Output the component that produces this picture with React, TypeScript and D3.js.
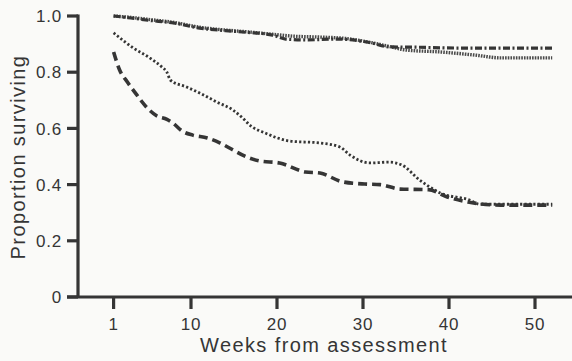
import React from "react";
import * as d3 from "d3";

const W = 572;
const H = 361;

// Weeks from assessment ticks and proportion ticks
const xTicks = [1, 10, 20, 30, 40, 50];
const yTicks = [0, 0.2, 0.4, 0.6, 0.8, 1.0];
const yTickLabels = ["0", "0.2", "0.4", "0.6", "0.8", "1.0"];

// Series A: dash-dot line (top)
const weeksA = [1, 3, 5, 8, 11, 14, 16, 19.5, 21, 23.5, 27, 31, 33, 36, 41, 52];
const survA = [1.0, 0.993, 0.985, 0.975, 0.957, 0.948, 0.943, 0.932, 0.918, 0.915, 0.918, 0.904, 0.89, 0.889, 0.886, 0.886];

// Series B: dense dotted line (top)
const weeksB = [1, 3, 5, 8, 11, 14, 16, 19.5, 22, 25, 28, 31, 33, 35, 39, 43, 46, 52];
const survB = [1.0, 0.995, 0.988, 0.977, 0.96, 0.95, 0.945, 0.935, 0.928, 0.925, 0.92, 0.905, 0.892, 0.879, 0.872, 0.861, 0.851, 0.851];

// Series C: dotted line
const weeksC = [1, 3.3, 5.2, 6.6, 7.2, 7.6, 9.5, 11, 13, 14.9, 16, 16.9, 18.6, 21.5, 25, 27.3, 28.5, 30.8, 33, 34.5, 36.6, 39, 42.4, 43.6, 52];
const survC = [0.94, 0.886, 0.851, 0.819, 0.8, 0.772, 0.747, 0.726, 0.694, 0.665, 0.637, 0.61, 0.584, 0.555, 0.548, 0.534, 0.505, 0.477, 0.48, 0.47, 0.416, 0.37, 0.345, 0.33, 0.33];

// Series D: dashed line
const weeksD = [1, 1.7, 2.6, 3.7, 4.9, 6, 7.2, 7.9, 9, 10.2, 11.9, 13.4, 14.9, 16.5, 18, 20.3, 23.3, 25, 27.6, 30.2, 32, 34.3, 37.6, 39.8, 42.2, 46, 52];
const survD = [0.872, 0.808, 0.765, 0.719, 0.673, 0.645, 0.632, 0.619, 0.59, 0.576, 0.566, 0.548, 0.523, 0.498, 0.484, 0.477, 0.445, 0.441, 0.41, 0.402, 0.4, 0.384, 0.382, 0.356, 0.338, 0.327, 0.327];

const INK = "#353535";
const FONT = "'Liberation Sans', Arial, Helvetica, sans-serif";

export default function App() {
  const x = d3.scaleLinear().domain([0, 50]).range([105, 535]);
  const y = d3.scaleLinear().domain([0, 1]).range([297, 16]);

  const line = d3
    .line<[number, number]>()
    .x((d) => x(d[0]))
    .y((d) => y(d[1]))
    .curve(d3.curveMonotoneX);

  const zip = (a: number[], b: number[]) => a.map((v, i) => [v, b[i]] as [number, number]);

  const series = [
    { pts: zip(weeksB, survB), dash: "1.6,1.1", width: 3.4, color: "#4a4a4a" },
    { pts: zip(weeksA, survA), dash: "7,2.5,2,2.5", width: 3.2, color: INK },
    { pts: zip(weeksC, survC), dash: "2.2,2.2", width: 2.8, color: INK },
    { pts: zip(weeksD, survD), dash: "9,5", width: 3.6, color: INK },
  ];

  const axisY = y(0);
  const axisX = 78;

  return (
    <svg
      width={W}
      height={H}
      style={{ position: "absolute", left: 0, top: 0 }}
      fontFamily={FONT}
    >
      <rect x={0} y={0} width={W} height={H} fill="#fafaf8" />

      {/* series */}
      {series.map((s, i) => (
        <path
          key={i}
          d={line(s.pts) || ""}
          fill="none"
          stroke={s.color}
          strokeWidth={s.width}
          strokeDasharray={s.dash}
        />
      ))}

      {/* y axis */}
      <line x1={axisX} x2={axisX} y1={y(1) - 1.5} y2={axisY} stroke={INK} strokeWidth={3.2} />
      {yTicks.map((t, i) => (
        <g key={t}>
          <line x1={67} x2={axisX} y1={y(t)} y2={y(t)} stroke={INK} strokeWidth={3.2} />
          <text
            x={62}
            y={y(t)}
            dy="0.36em"
            textAnchor="end"
            fontSize={17}
            letterSpacing={0.8}
            fill={INK}
          >
            {yTickLabels[i]}
          </text>
        </g>
      ))}

      {/* x axis */}
      <line x1={67} x2={W} y1={axisY} y2={axisY} stroke={INK} strokeWidth={3.2} />
      {xTicks.map((t) => (
        <g key={t}>
          <line x1={x(t)} x2={x(t)} y1={axisY} y2={axisY + 12} stroke={INK} strokeWidth={3.2} />
          <text x={x(t)} y={330} textAnchor="middle" fontSize={17} letterSpacing={0.8} fill={INK}>
            {t}
          </text>
        </g>
      ))}

      {/* axis titles */}
      <text x={324} y={352} textAnchor="middle" fontSize={20} letterSpacing={1.4} fill={INK}>
        Weeks from assessment
      </text>
      <text
        transform={`translate(25,157) rotate(-90)`}
        textAnchor="middle"
        fontSize={20}
        letterSpacing={1.4}
        fill={INK}
      >
        Proportion surviving
      </text>
    </svg>
  );
}
